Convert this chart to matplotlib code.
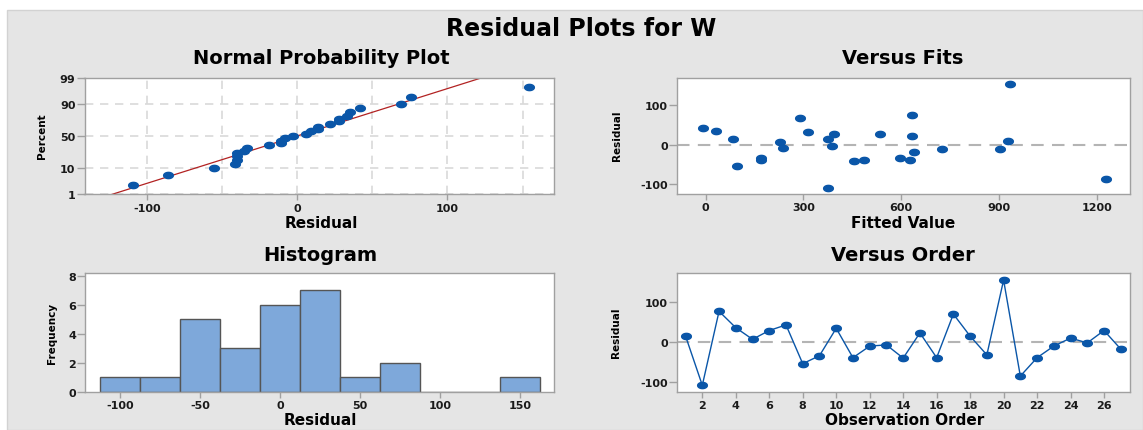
import numpy as np
import matplotlib
matplotlib.use("Agg")
import matplotlib.pyplot as plt
from matplotlib.patches import Rectangle
from statistics import NormalDist

plt.rcParams["axes.unicode_minus"] = False

# residuals in observation order, and the fitted values that go with them
order = np.arange(1, 28)
resid = [14, -109, 76, 35, 6, 28, 42, -55, -35, 33.5, -40, -11, -8, -41, 22,
         -40, 69, 14, -33, 154, -86, -40, -11, 9, -3, 28, -18.5]
fits = [83, 376, 634, 33, 229, 395, -8, 95, 169, 315, 487, 726, 237, 456, 634,
        628, 291, 375, 596, 934, 1228, 169, 904, 928, 389, 536, 640]
hist_edges = np.arange(-112.5, 175, 25)
prob_ticks = [1, 10, 50, 90, 99]

W, H = 1143, 431
BLUE = "#0a56a8"
nd = NormalDist()

def probit(p):
    return np.array([nd.inv_cdf(v / 100.0) for v in np.atleast_1d(p)])

# oval marker (the points are wider than tall)
t = np.linspace(0, 2 * np.pi, 40)
oval = list(zip(1.55 * np.cos(t), np.sin(t)))
MS = 7

def px_rect(x0, y0, x1, y1):
    return [x0 / W, 1 - y1 / H, (x1 - x0) / W, (y1 - y0) / H]

def style(ax):
    for s in ax.spines.values():
        s.set_color("#a0a0a0")
        s.set_linewidth(1)
    ax.tick_params(colors="#a0a0a0", labelcolor="#1a1a1a", width=1, labelsize=8)
    ax.tick_params(axis="x", length=4, pad=2)
    ax.tick_params(axis="y", length=5.5, pad=1)
    for lab in ax.get_xticklabels() + ax.get_yticklabels():
        lab.set_fontweight("bold")

def ftext(x, y, s, **kw):
    fig.text(x / W, 1 - y / H, s, ha="center", va="center", fontweight="bold", **kw)

fig = plt.figure(figsize=(W / 100, H / 100), dpi=100)
fig.patch.set_facecolor("white")
fig.add_artist(Rectangle((7 / W, 0), 1 - 7 / W, 1 - 11 / H, transform=fig.transFigure,
                         facecolor="#e5e5e5", edgecolor="#d2d2d2", lw=1, zorder=-1))

ftext(581, 29, "Residual Plots for W", fontsize=17)

# normal probability plot
ax1 = fig.add_axes(px_rect(84.5, 78.7, 554, 195.3))
n = len(resid)
rs = np.sort(resid)
pp = (np.arange(1, n + 1) - 0.3) / (n + 0.4) * 100
mu, sd = np.mean(resid), np.std(resid, ddof=1)
zz = np.linspace(-3, 3, 50)
ax1.plot(mu + sd * zz, zz, color="#b22222", lw=0.9, zorder=2)
ax1.plot(rs, probit(pp), ls="none", marker=oval, ms=MS, color=BLUE, zorder=3)
ax1.set_xlim(-141.4, 170.9)
ax1.set_ylim(probit(1)[0], probit(99)[0])
ax1.set_xticks([-100, 0, 100])
ax1.set_xticks([-50, 50, 150], minor=True)
ax1.set_yticks(probit(prob_ticks))
ax1.set_yticklabels([str(v) for v in prob_ticks])
ax1.grid(True, which="both", color="#d9d9d9", ls=(0, (5, 4)), lw=1.2, zorder=0)
style(ax1)
ax1.tick_params(which="minor", length=0)
ftext(321, 59, "Normal Probability Plot", fontsize=14)
ftext(321, 224, "Residual", fontsize=11)
ftext(41.7, 136, "Percent", fontsize=7.5, rotation=90)

# versus fits
ax2 = fig.add_axes(px_rect(676.7, 78.7, 1130, 195))
ax2.axhline(0, color="#b4b4b4", ls=(0, (6, 4)), lw=1.5, zorder=1)
ax2.plot(fits, resid, ls="none", marker=oval, ms=MS, color=BLUE, zorder=3)
ax2.set_xlim(-88.3, 1301)
ax2.set_ylim(-125.4, 170.5)
ax2.set_xticks([0, 300, 600, 900, 1200])
ax2.set_yticks([-100, 0, 100])
style(ax2)
ftext(903, 59, "Versus Fits", fontsize=14)
ftext(903, 224, "Fitted Value", fontsize=11)
ftext(616.7, 136, "Residual", fontsize=7.5, rotation=90)

# histogram
ax3 = fig.add_axes(px_rect(85, 274.3, 554.3, 392.7))
ax3.hist(resid, bins=hist_edges, color="#7ea8da", edgecolor="#555555", lw=1)
ax3.set_xlim(-121.9, 171.4)
ax3.set_ylim(0, 8.16)
ax3.set_xticks([-100, -50, 0, 50, 100, 150])
ax3.set_yticks([0, 2, 4, 6, 8])
style(ax3)
ftext(320, 256, "Histogram", fontsize=14)
ftext(320, 421, "Residual", fontsize=11)
ftext(51.8, 333, "Frequency", fontsize=7.5, rotation=90)

# versus order
ax4 = fig.add_axes(px_rect(676.7, 274.3, 1130.3, 392.7))
ax4.axhline(0, color="#b4b4b4", ls=(0, (6, 4)), lw=1.5, zorder=1)
ax4.plot(order, resid, color=BLUE, lw=1, marker=oval, ms=MS, zorder=3)
ax4.set_xlim(0.47, 27.57)
ax4.set_ylim(-125, 171)
ax4.set_xticks(np.arange(2, 27, 2))
ax4.set_yticks([-100, 0, 100])
style(ax4)
ftext(903, 256, "Versus Order", fontsize=14)
ftext(905, 421, "Observation Order", fontsize=11)
ftext(616, 333, "Residual", fontsize=7.5, rotation=90)

fig.savefig("out.png", dpi=100, facecolor=fig.get_facecolor())
